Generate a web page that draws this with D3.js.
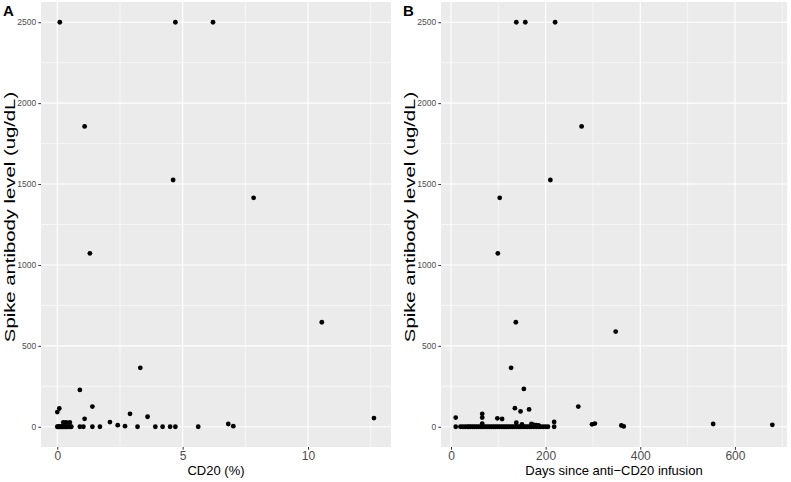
<!DOCTYPE html>
<html><head><meta charset="utf-8">
<script src="https://cdn.jsdelivr.net/npm/d3@7"></script>
<style>body{margin:0;background:#fff}svg{display:block}</style>
</head><body>
<script>
// Panel A: CD20 (%) vs spike antibody level
const cd20 = [0.1, 4.71, 6.21, 1.09, 4.62, 7.83, 1.30, 10.55, 3.31, 0.9,
  0.0, 0.08, 1.40, 1.09, 2.9, 3.6, 2.10, 2.41, 2.70, 6.82, 7.02, 12.63,
  0.0, 0.03, 0.06, 0.1, 0.14, 0.18, 0.22, 0.26, 0.3, 0.34, 0.38, 0.42, 0.47, 0.52, 0.56,
  0.24, 0.35, 0.5, 0.9, 1.04, 1.40, 1.70, 3.2, 3.91, 4.2, 4.5, 4.71, 5.62];
const spikeA = [2500, 2500, 2500, 1856, 1525, 1415, 1072, 646, 364, 228,
  91, 113, 125, 49, 80, 62, 29, 10, 4, 17, 4, 54,
  0, 0, 0, 0, 0, 0, 0, 0, 0, 0, 0, 0, 0, 0, 0,
  27, 27, 27, 0, 0, 0, 0, 0, 0, 0, 0, 0, 0];

// Panel B: days since anti-CD20 infusion vs spike antibody level
const days = [138, 157, 220, 276, 210, 103, 99, 137, 348, 127, 154,
  269, 298, 304, 360, 365, 554, 679,
  10, 66, 66, 98, 108, 135, 147, 165, 218,
  10, 20, 25, 30, 35, 38, 42, 46, 50, 54, 58, 62, 66, 70, 74, 78, 82, 86, 90, 94,
  98, 102, 106, 110, 114, 118, 122, 126, 130, 134, 138, 142, 146, 150, 154, 158,
  162, 166, 170, 175, 180, 185, 190, 195, 200, 205, 218,
  66, 138, 150, 170, 175, 180, 185];
const spikeB = [2500, 2500, 2500, 1856, 1525, 1415, 1072, 646, 588, 364, 234,
  125, 15, 20, 8, 2, 17, 12,
  57, 80, 57, 52, 48, 115, 95, 107, 30,
  0, 0, 0, 0, 0, 0, 0, 0, 0, 0, 0, 0, 0, 0, 0, 0, 0, 0, 0, 0,
  0, 0, 0, 0, 0, 0, 0, 0, 0, 0, 0, 0, 0, 0, 0, 0,
  0, 0, 0, 0, 0, 0, 0, 0, 0, 0, 0,
  20, 25, 15, 18, 12, 10, 8];

const yMajor = [0, 500, 1000, 1500, 2000, 2500];
const yMinor = [250, 750, 1250, 1750, 2250];
const xMajorA = [0, 5, 10];
const xMinorA = [2.5, 7.5, 12.5];
const xMajorB = [0, 200, 400, 600];
const xMinorB = [100, 300, 500, 700];

const W = 791, H = 482;
const svg = d3.select("body").append("svg").attr("width", W).attr("height", H);
const font = "Liberation Sans, Arial, sans-serif";

function panel(opt) {
  const x = d3.scaleLinear().domain(opt.xdom).range([opt.left, opt.right]);
  const y = d3.scaleLinear().domain([-125, 2625]).range([447, 2]);
  const g = svg.append("g");
  g.append("rect").attr("x", opt.left).attr("y", 2)
    .attr("width", opt.right - opt.left).attr("height", 445).attr("fill", "#EBEBEB");
  // minor grid
  g.selectAll(".mx").data(opt.xMinor).join("line")
    .attr("x1", d => x(d)).attr("x2", d => x(d)).attr("y1", 2).attr("y2", 447)
    .attr("stroke", "#fff").attr("stroke-width", 0.55);
  g.selectAll(".my").data(yMinor).join("line")
    .attr("y1", d => y(d)).attr("y2", d => y(d)).attr("x1", opt.left).attr("x2", opt.right)
    .attr("stroke", "#fff").attr("stroke-width", 0.55);
  // major grid
  g.selectAll(".Mx").data(opt.xMajor).join("line")
    .attr("x1", d => x(d)).attr("x2", d => x(d)).attr("y1", 2).attr("y2", 447)
    .attr("stroke", "#fff").attr("stroke-width", 1.1);
  g.selectAll(".My").data(yMajor).join("line")
    .attr("y1", d => y(d)).attr("y2", d => y(d)).attr("x1", opt.left).attr("x2", opt.right)
    .attr("stroke", "#fff").attr("stroke-width", 1.1);

  // axes
  const ya = d3.axisLeft(y).tickValues(yMajor).tickFormat(d3.format("d")).tickSize(2.75).tickPadding(2);
  const yg = g.append("g").attr("transform", `translate(${opt.left},0)`).call(ya);
  yg.select(".domain").remove();
  yg.selectAll("line").attr("stroke", "#333").attr("stroke-width", 1);
  yg.selectAll("text").attr("fill", "#4D4D4D").attr("font-size", 8.5).attr("font-family", font);

  const xa = d3.axisBottom(x).tickValues(opt.xMajor).tickFormat(d3.format("d")).tickSize(2.75).tickPadding(2);
  const xg = g.append("g").attr("transform", "translate(0,447)").call(xa);
  xg.select(".domain").remove();
  xg.selectAll("line").attr("stroke", "#333").attr("stroke-width", 1);
  xg.selectAll("text").attr("fill", "#4D4D4D").attr("font-size", 12).attr("font-family", font);

  // points
  g.selectAll("circle").data(opt.xs.map((v, i) => [v, opt.ys[i]])).join("circle")
    .attr("cx", d => x(d[0])).attr("cy", d => y(d[1])).attr("r", 2.4).attr("fill", "#000");

  // titles
  g.append("text").attr("x", (opt.left + opt.right) / 2).attr("y", 475)
    .attr("text-anchor", "middle").attr("font-size", 13).attr("font-family", font)
    .attr("fill", "#000").text(opt.xtitle);
  g.append("text").attr("transform", `translate(${opt.left - 26},${217}) rotate(-90) scale(1.45,1)`)
    .attr("text-anchor", "middle").attr("font-size", 14).attr("font-family", font)
    .attr("fill", "#000").text("Spike antibody level (ug/dL)");
  g.append("text").attr("x", opt.left - 38).attr("y", 16)
    .attr("font-size", 15).attr("font-weight", "bold").attr("font-family", font)
    .attr("fill", "#000").text(opt.tag);
}

panel({left: 41, right: 391, xdom: [-0.65, 13.31], xMajor: xMajorA, xMinor: xMinorA,
  xs: cd20, ys: spikeA, xtitle: "CD20 (%)", tag: "A"});
panel({left: 441, right: 787, xdom: [-21.1, 710], xMajor: xMajorB, xMinor: xMinorB,
  xs: days, ys: spikeB, xtitle: "Days since anti\u2212CD20 infusion", tag: "B"});
</script>
</body></html>
